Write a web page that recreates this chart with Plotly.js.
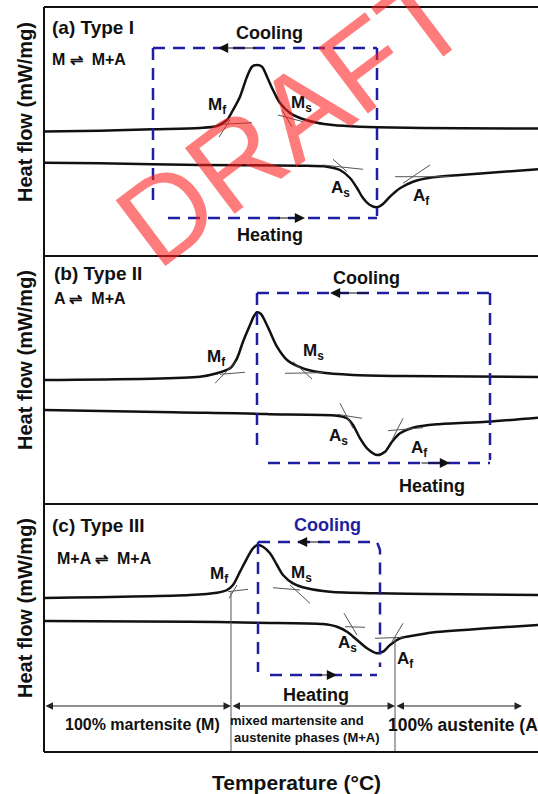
<!DOCTYPE html>
<html>
<head>
<meta charset="utf-8">
<script src="https://cdn.plot.ly/plotly-3.0.1.min.js"></script>
<style>html,body{margin:0;padding:0;background:#fff;}#chart{width:538px;height:794px;}</style>
</head>
<body>
<div id="chart"></div>
<script>
// Schematic DSC curves (arbitrary temperature units 0..494, arbitrary heat-flow units per panel 0..248)
// ---- Panel (a) Type I ----
const coolA_T = [0,56,109,156,173,183,189,196,203,208,213,218,223,229,236,246,256,273,289,316,333,416,494];
const coolA_H = [124.5,125.3,126.7,128,130,136,146,159.3,179.3,189.3,191,189.3,179.3,166,153,143,138,133.3,131,129.3,128.7,127.7,127.5];
const heatA_T = [0,56,156,256,283,296,306,313,319,326,333,339,346,356,369,389,416,456,494];
const heatA_H = [93.3,92.7,91,90.3,89.3,86,78,68,58,51,48.7,52,59.3,67.7,74.3,78.7,81,84,86.7];
// ---- Panel (b) Type II ----
const coolB_T = [0,156,173,186,193,199,206,210,213,217,220,226,233,243,259,276,309,359,494];
const coolB_H = [124,127.3,130.7,135.7,145.7,162.3,179,188,191.7,190,185,172.3,157.3,144,135.7,131.7,129,128,127];
const heatB_T = [0,129,223,226,293,303,309,316,323,333,341,348,356,369,393,443,494];
const heatB_H = [94,91.7,90,89.7,88.3,85.7,79,65.7,55.7,49,52.3,62.3,70.7,76.3,79.7,82.3,86.3];
// ---- Panel (c) Type III ----
const coolC_T = [0,146,173,183,189,196,203,209,214,219,226,233,239,249,263,286,333,386,494];
const coolC_H = [154,157,159.3,162,167,180.3,193.7,203.7,207,205.3,198.7,187,177,168.7,163.7,160.3,158.7,158,157];
const heatC_T = [0,146,213,279,293,303,313,323,333,339,346,356,373,386,443,494];
const heatC_H = [131,130.3,129.3,128,125.3,120.3,112,103.7,98.7,100.3,107,113.7,117,119.3,123.7,127];

// tangent construction lines (pairs separated by null)
const tanA_T = [179,208,null,175,186,null,234,259,null,238,248,null,279,319,null,289,303,null,351,406,null,359,386];
const tanA_H = [131.7,133.3,null,119,136,null,141,134.3,null,146,129.3,null,91,86.7,null,96.7,84.3,null,79.3,79.3,null,72.7,91];
const tanB_T = [176,201,null,171,192.7,null,241,279,null,249,268,null,293,318,null,296,309,null,344,379,null,348,359];
const tanB_H = [129.7,131.7,null,120.7,143,null,130.7,131.3,null,142.3,125,null,89.7,85.7,null,100.7,75.7,null,73.3,76.3,null,64,85.7];
const tanC_T = [184,204,null,185,193,null,229,256,null,246,266,null,301,321,null,300,313,null,331,359,null,348,359];
const tanC_H = [160.3,162.7,null,153.7,167,null,164.3,162,null,167,148.7,null,125.3,124.7,null,138.7,117,null,113.7,114.7,null,110.3,128.7];

// transformation temperature labels
const transNames = ['M<sub>f</sub>','M<sub>s</sub>','A<sub>s</sub>','A<sub>f</sub>'];
const labA_T = [173,257,296,377], labA_H = [150,152,67,59];
const labB_T = [172,269,294,375], labB_H = [146,152,67,55];
const labC_T = [175,257,303,361], labC_H = [177,178,108,92];

// dashed cycle boxes: [left, right, top, bottom]
const boxA = [109,333,208,38];
const boxB = [213,446,211,41];
const boxC = [214,336,210,77];

// phase boundaries in (c) and phase-region labels
const phaseBound_T = [187,351];
const phaseBound_Top = [160,115];
const phaseNames = ['100% martensite (M)','mixed martensite and','austenite phases (M+A)','100% austenite (A)'];

const FONT = 'Arial, "Liberation Sans", sans-serif';
const BLUE = '#1e1ea0';

const traces = [];
function curve(x, y, ya){ traces.push({x:x, y:y, yaxis:ya, xaxis:'x', mode:'lines', line:{color:'#111', width:2.5, shape:'spline', smoothing:0.8}, hoverinfo:'skip'}); }
function thin(x, y, ya){ traces.push({x:x, y:y, yaxis:ya, xaxis:'x', mode:'lines', line:{color:'#555', width:1}, connectgaps:false, hoverinfo:'skip'}); }
function dashed(x, y, ya){ traces.push({x:x, y:y, yaxis:ya, xaxis:'x', mode:'lines', line:{color:BLUE, width:2.5, dash:'12px,8px'}, connectgaps:false, hoverinfo:'skip'}); }

curve(coolA_T, coolA_H, 'y'); curve(heatA_T, heatA_H, 'y');
curve(coolB_T, coolB_H, 'y2'); curve(heatB_T, heatB_H, 'y2');
curve(coolC_T, coolC_H, 'y3'); curve(heatC_T, heatC_H, 'y3');
thin(tanA_T, tanA_H, 'y'); thin(tanB_T, tanB_H, 'y2'); thin(tanC_T, tanC_H, 'y3');

// boxes
const bA = boxA, bB = boxB, bC = boxC;
dashed([bA[0],bA[0],null,bA[0],bA[1],null,bA[1],bA[1],null,bA[0]+15,bA[1]], [bA[2],56,null,bA[2],bA[2],null,bA[2],40,null,bA[3],bA[3]], 'y');
dashed([bB[0],bB[0],null,bB[0],bB[1],null,bB[1],bB[1],null,bB[0]+11,bB[1]], [bB[2],56,null,bB[2],bB[2],null,bB[2],44,null,bB[3],bB[3]], 'y2');
dashed([bC[0],bC[0],null,bC[0],bC[1]-3,bC[1],bC[1],null,bC[0]+12,bC[1]-3], [bC[2],80,null,bC[2],bC[2],202,85,null,bC[3],bC[3]], 'y3');

// phase boundary verticals in (c)
thin([phaseBound_T[0],phaseBound_T[0],null,phaseBound_T[1],phaseBound_T[1]], [phaseBound_Top[0],0,null,phaseBound_Top[1],0], 'y3');

const ann = [];
function txt(x, y, yref, text, size, opts){
  ann.push(Object.assign({x:x, y:y, xref:'x', yref:yref, text:text, showarrow:false, xanchor:'center', yanchor:'middle', font:{family:FONT, size:size, color:'#111'}}, opts||{}));
}
function arrow(xh, yh, xt, yt, yref, opts){
  ann.push(Object.assign({x:xh, y:yh, ax:xt, ay:yt, xref:'x', yref:yref, axref:'x', ayref:yref, text:'', showarrow:true, arrowhead:2, arrowsize:1.7, arrowwidth:1.2, arrowcolor:'#111', standoff:0, startstandoff:0}, opts||{}));
}

// panel titles
txt(6, 228.5, 'y', '<b>(a) Type I</b>', 19, {xanchor:'left'});
txt(6, 197, 'y', '<b>M \u21cc  M+A</b>', 16, {xanchor:'left'});
txt(8, 231, 'y2', '<b>(b) Type II</b>', 19, {xanchor:'left'});
txt(8, 206, 'y2', '<b>A \u21cc  M+A</b>', 16, {xanchor:'left'});
txt(6, 226, 'y3', '<b>(c) Type III</b>', 19, {xanchor:'left'});
txt(11, 193, 'y3', '<b>M+A \u21cc  M+A</b>', 16, {xanchor:'left'});

// transformation labels
[[labA_T,labA_H,'y'],[labB_T,labB_H,'y2'],[labC_T,labC_H,'y3']].forEach(function(p){
  for (let i=0;i<4;i++) txt(p[0][i], p[1][i], p[2], '<b>'+transNames[i]+'</b>', 17);
});

// cooling / heating
txt(225, 223, 'y', '<b>Cooling</b>', 18); txt(226, 21, 'y', '<b>Heating</b>', 18);
txt(322, 226, 'y2', '<b>Cooling</b>', 18); txt(388, 18, 'y2', '<b>Heating</b>', 18);
txt(283, 227, 'y3', '<b>Cooling</b>', 18, {font:{family:FONT,size:18,color:BLUE}}); txt(272, 57, 'y3', '<b>Heating</b>', 18);
arrow(174, 208, 213, 208, 'y'); arrow(261, 38, 232, 38, 'y');
arrow(286, 211, 326, 211, 'y2'); arrow(406, 41, 376, 41, 'y2');
arrow(253, 210, 279, 210, 'y3'); arrow(293, 77, 273, 77, 'y3');

// phase region double arrows in (c)
arrow(phaseBound_T[0], 46, 0, 46, 'y3', {arrowside:'end+start', arrowsize:1.5, arrowwidth:1, arrowcolor:'#222'});
arrow(phaseBound_T[1], 46, phaseBound_T[0], 46, 'y3', {arrowside:'end+start', arrowsize:1.5, arrowwidth:1, arrowcolor:'#222'});
arrow(478, 46, phaseBound_T[1], 46, 'y3', {arrowside:'end+start', arrowsize:1.5, arrowwidth:1, arrowcolor:'#222'});
txt(98, 27, 'y3', '<b>'+phaseNames[0]+'</b>', 16);
txt(252.5, 31, 'y3', '<b>'+phaseNames[1]+'</b>', 13);
txt(262.5, 14, 'y3', '<b>'+phaseNames[2]+'</b>', 13);
txt(342, 27, 'y3', '<b>'+phaseNames[3]+'</b>', 17.5, {xanchor:'left'});

// axis titles
['y','y2','y3'].forEach(function(r){
  ann.push({xref:'paper', yref:r, x:-0.0385, y:144, text:'<b>Heat flow (mW/mg)</b>', textangle:-90, showarrow:false, xanchor:'center', yanchor:'middle', font:{family:FONT, size:20, color:'#111'}});
});
ann.push({xref:'paper', yref:'paper', x:0.512, y:-0.0416, text:'<b>Temperature (\u00b0C)</b>', showarrow:false, xanchor:'center', yanchor:'middle', font:{family:FONT, size:21, color:'#111'}});

// watermark
ann.push({xref:'paper', yref:'paper', x:0.502, y:0.851, text:'DRAFT', textangle:-37, showarrow:false, xanchor:'center', yanchor:'middle', font:{family:FONT, size:120, color:'rgba(255,30,30,0.58)'}});

const frame = {type:'line', xref:'paper', yref:'paper', line:{color:'#111', width:2}};
const shapes = [
  Object.assign({}, frame, {x0:0, x1:0, y0:0, y1:1}),
  Object.assign({}, frame, {x0:0, x1:1, y0:1, y1:1}),
  Object.assign({}, frame, {x0:0, x1:1, y0:0.66577, y1:0.66577}),
  Object.assign({}, frame, {x0:0, x1:1, y0:0.33289, y1:0.33289}),
  Object.assign({}, frame, {x0:0, x1:1, y0:0, y1:0})
];

const ax = {showgrid:false, zeroline:false, showticklabels:false, ticks:'', showline:false, fixedrange:true};
const layout = {
  width:538, height:794,
  margin:{l:44, r:0, t:7, b:42},
  paper_bgcolor:'#fff', plot_bgcolor:'#fff',
  showlegend:false,
  xaxis:Object.assign({range:[0,494]}, ax),
  yaxis:Object.assign({domain:[0.66577,1], range:[0,249]}, ax),
  yaxis2:Object.assign({domain:[0.33289,0.66577], range:[0,248]}, ax),
  yaxis3:Object.assign({domain:[0,0.33289], range:[0,248]}, ax),
  annotations:ann,
  shapes:shapes
};
Plotly.newPlot('chart', traces, layout, {displayModeBar:false, staticPlot:true});
</script>
</body>
</html>
